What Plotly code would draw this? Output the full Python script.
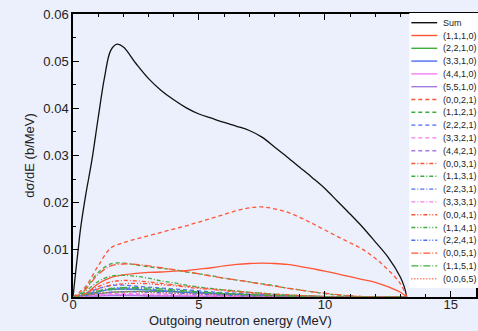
import plotly.graph_objects as go

# Outgoing neutron energy grid (MeV)
E_SUM = [0, 0.1, 0.2, 0.3, 0.5, 0.75, 1.0, 1.25, 1.5, 1.75, 2.0, 2.5, 3, 3.5, 4, 4.5, 5, 5.5,
         6, 6.5, 7, 7.5, 8, 8.5, 9, 9.5, 10, 10.5, 11, 11.5, 12, 12.5, 13, 13.15, 13.25]
SUM = [0, .0050, .0098, .0145, .0215, .0290, .0380, .0465, .0523, .0536, .0530, .0495, .0463,
       .0438, .0418, .0401, .0388, .0379, .0370, .0362, .0353, .0339, .0318, .0297, .0275,
       .0253, .0230, .0203, .0176, .0148, .0117, .0085, .0042, .0022, 0]

E = [0, 0.25, 0.5, 1, 1.5, 2, 2.5, 3, 3.5, 4, 4.5, 5, 5.5, 6, 6.5, 7, 7.5, 8, 8.5, 9, 9.5,
     10, 10.5, 11, 11.5, 12, 12.5, 13, 13.25]

# Partial contributions, labelled by their quantum numbers
P_1110 = [0, .0002, .0007, .0028, .0041, .0047, .0050, .0052, .0053, .0055, .0056, .0059, .0062, .0066, .0069,
          .0071, .0072, .0071, .0069, .0065, .0060, .0055, .0049, .0043, .0037, .0031, .0022, .0010, 0]
P_2210 = [0, .0001, .0003, .0007, .0010, .0011, .0012, .0012, .0012, .0011, .0010, .0009, .0008, .0007, .0006,
          .0005, .0004, .0003, .0003, .0002, .0002, .0001, .0001, .0001, 0, 0, 0, 0, 0]
P_3310 = [0, .0001, .0004, .0011, .0016, .0017, .0016, .0015, .0013, .0012, .0010, .0009, .0007, .0006, .0005,
          .0004, .0003, .0002, .0002, .0001, .0001, 0, 0, 0, 0, 0, 0, 0, 0]
P_4410 = [0, 0, .0001, .0003, .0004, .0004, .0004, .0003, .0003, .0003, .0002, .0002, .0002, .0001, .0001,
          .0001, 0, 0, 0, 0, 0, 0, 0, 0, 0, 0, 0, 0, 0]
P_5510 = [0, 0, .0001, .0002, .0003, .0003, .0003, .0002, .0002, .0002, .0001, .0001, .0001, .0001, 0,
          0, 0, 0, 0, 0, 0, 0, 0, 0, 0, 0, 0, 0, 0]
P_0021 = [0, .0010, .0022, .0066, .0104, .0115, .0123, .0130, .0137, .0144, .0151, .0159, .0167, .0175, .0183,
          .0189, .0191, .0187, .0180, .0169, .0156, .0142, .0128, .0115, .0101, .0082, .0058, .0028, 0]
P_1121 = [0, .0006, .0018, .0052, .0070, .0072, .0068, .0064, .0061, .0058, .0053, .0049, .0045, .0040, .0036,
          .0032, .0028, .0024, .0019, .0015, .0011, .0007, .0004, .0002, 0, 0, 0, 0, 0]
P_2221 = [0, .0002, .0007, .0018, .0024, .0025, .0023, .0021, .0019, .0017, .0015, .0013, .0011, .0009, .0008,
          .0006, .0005, .0004, .0003, .0002, .0001, .0001, 0, 0, 0, 0, 0, 0, 0]
P_3321 = [0, .0001, .0002, .0005, .0007, .0007, .0007, .0006, .0006, .0005, .0004, .0004, .0003, .0003, .0002,
          .0002, .0001, .0001, 0, 0, 0, 0, 0, 0, 0, 0, 0, 0, 0]
P_4421 = [0, 0, .0001, .0003, .0004, .0004, .0004, .0003, .0003, .0002, .0002, .0002, .0001, .0001, .0001,
          0, 0, 0, 0, 0, 0, 0, 0, 0, 0, 0, 0, 0, 0]
P_0031 = [0, .0003, .0008, .0022, .0032, .0035, .0034, .0032, .0029, .0026, .0023, .0020, .0017, .0015, .0012,
          .0010, .0008, .0006, .0005, .0003, .0002, .0001, 0, 0, 0, 0, 0, 0, 0]
P_1131 = [0, .0004, .0012, .0033, .0044, .0046, .0044, .0040, .0034, .0030, .0025, .0021, .0018, .0015, .0013,
          .0010, .0008, .0006, .0004, .0003, .0002, .0001, 0, 0, 0, 0, 0, 0, 0]
P_2231 = [0, .0001, .0005, .0013, .0018, .0019, .0018, .0016, .0014, .0012, .0010, .0009, .0007, .0006, .0005,
          .0004, .0003, .0002, .0001, .0001, 0, 0, 0, 0, 0, 0, 0, 0, 0]
P_3331 = [0, 0, .0002, .0004, .0005, .0005, .0005, .0004, .0004, .0003, .0003, .0002, .0002, .0001, .0001,
          0, 0, 0, 0, 0, 0, 0, 0, 0, 0, 0, 0, 0, 0]
P_0041 = [0, .0002, .0006, .0017, .0025, .0028, .0029, .0028, .0026, .0024, .0021, .0018, .0016, .0013, .0011,
          .0009, .0007, .0005, .0004, .0003, .0002, .0001, 0, 0, 0, 0, 0, 0, 0]
P_1141 = [0, .0001, .0004, .0011, .0015, .0017, .0017, .0016, .0014, .0013, .0011, .0010, .0008, .0007, .0006,
          .0005, .0004, .0003, .0002, .0001, .0001, 0, 0, 0, 0, 0, 0, 0, 0]
P_2241 = [0, .0001, .0003, .0007, .0010, .0011, .0011, .0010, .0009, .0008, .0007, .0006, .0005, .0004, .0003,
          .0002, .0002, .0001, .0001, 0, 0, 0, 0, 0, 0, 0, 0, 0, 0]
P_0051 = [0, .0005, .0016, .0048, .0066, .0070, .0069, .0066, .0062, .0058, .0054, .0049, .0044, .0040, .0036,
          .0032, .0027, .0023, .0019, .0015, .0011, .0008, .0005, .0003, .0001, 0, 0, 0, 0]
P_1151 = [0, .0002, .0005, .0013, .0018, .0020, .0020, .0019, .0017, .0015, .0013, .0011, .0009, .0008, .0006,
          .0005, .0004, .0003, .0002, .0001, 0, 0, 0, 0, 0, 0, 0, 0, 0]
P_0065 = [0, .0001, .0003, .0008, .0010, .0011, .0011, .0010, .0009, .0008, .0007, .0006, .0005, .0004, .0003,
          .0002, .0002, .0001, 0, 0, 0, 0, 0, 0, 0, 0, 0, 0, 0]

RED, GREEN, BLUE, PINK, PURPLE = "#ff5535", "#3fae3f", "#4f6cf5", "#f77cf0", "#a47ce0"
SOLID, DASH = "solid", "4px,3px"
DASHDOT = "4px,2px,1px,2px"
DASHDOTDOT = "4px,2px,1px,2px,1px,2px"
LONGDASHDOT = "7px,2px,1px,2px"
DOT = "1px,2px"

series = [
    ("Sum", E_SUM, SUM, "#111111", SOLID),
    ("(1,1,1,0)", E, P_1110, RED, SOLID),
    ("(2,2,1,0)", E, P_2210, GREEN, SOLID),
    ("(3,3,1,0)", E, P_3310, BLUE, SOLID),
    ("(4,4,1,0)", E, P_4410, PINK, SOLID),
    ("(5,5,1,0)", E, P_5510, PURPLE, SOLID),
    ("(0,0,2,1)", E, P_0021, RED, DASH),
    ("(1,1,2,1)", E, P_1121, GREEN, DASH),
    ("(2,2,2,1)", E, P_2221, BLUE, DASH),
    ("(3,3,2,1)", E, P_3321, PINK, DASH),
    ("(4,4,2,1)", E, P_4421, PURPLE, DASH),
    ("(0,0,3,1)", E, P_0031, RED, DASHDOT),
    ("(1,1,3,1)", E, P_1131, GREEN, DASHDOT),
    ("(2,2,3,1)", E, P_2231, BLUE, DASHDOT),
    ("(3,3,3,1)", E, P_3331, PINK, DASHDOT),
    ("(0,0,4,1)", E, P_0041, RED, DASHDOTDOT),
    ("(1,1,4,1)", E, P_1141, GREEN, DASHDOTDOT),
    ("(2,2,4,1)", E, P_2241, BLUE, DASHDOTDOT),
    ("(0,0,5,1)", E, P_0051, RED, LONGDASHDOT),
    ("(1,1,5,1)", E, P_1151, GREEN, LONGDASHDOT),
    ("(0,0,6,5)", E, P_0065, RED, DOT),
]

W, H = 478, 331
ML, MT, MB, MR = 73, 14, 34, 0
PW, PH = W - ML - MR, H - MT - MB
BG = "#eceffc"
FONT = "Liberation Sans, Arial, Helvetica, sans-serif"
TXT = "#222222"

fig = go.Figure()
for name, x, y, color, dash in series:
    fig.add_trace(go.Scatter(
        x=x, y=y, mode="lines", name=name, showlegend=False,
        line=dict(color=color, dash=dash, width=1.3, shape="spline", smoothing=1.0),
    ))


def px_x(px):
    return (px - ML) / PW


def px_y(py):
    return 1 - (py - MT) / PH


# Compact legend panel built from shapes and annotations
shapes = [dict(type="rect", xref="paper", yref="paper", layer="above",
               x0=px_x(411), x1=px_x(W + 2), y0=px_y(288), y1=px_y(MT - 1),
               fillcolor="white", line=dict(width=0))]
annotations = []
for i, (name, _, _, color, dash) in enumerate(series):
    yc = px_y(22.7 + i * 12.8)
    shapes.append(dict(type="line", xref="paper", yref="paper", layer="above",
                       x0=px_x(413), x1=px_x(439), y0=yc, y1=yc,
                       line=dict(color=color, dash=dash, width=1.4)))
    annotations.append(dict(xref="paper", yref="paper", x=px_x(443), y=yc,
                            xanchor="left", yanchor="middle", text=name, showarrow=False,
                            font=dict(size=9, color=TXT, family=FONT)))

# x-axis title
annotations.append(dict(xref="paper", yref="paper", x=px_x(241), y=px_y(320.5),
                        xanchor="center", yanchor="middle", showarrow=False,
                        text="Outgoing neutron energy (MeV)",
                        font=dict(size=13, color=TXT, family=FONT)))

axis_common = dict(
    showline=True, linecolor="black", linewidth=1.5, mirror="ticks",
    ticks="inside", ticklen=6, tickwidth=1.2, tickcolor="black",
    showgrid=False, zeroline=False,
    tickfont=dict(size=13, color=TXT, family=FONT),
)

fig.update_layout(
    width=W, height=H,
    margin=dict(l=ML, r=MR, t=MT, b=MB, pad=0),
    paper_bgcolor=BG, plot_bgcolor=BG,
    font=dict(family=FONT, color=TXT),
    shapes=shapes, annotations=annotations,
    xaxis=dict(range=[0, 16], tickvals=[0, 5, 10, 15], ticklabelstandoff=-5,
               minor=dict(ticks="inside", dtick=1, ticklen=3, tickcolor="black"),
               **axis_common),
    yaxis=dict(range=[0, 0.06], tickvals=[0, 0.01, 0.02, 0.03, 0.04, 0.05, 0.06],
               ticktext=["0", "0.01", "0.02", "0.03", "0.04", "0.05", "0.06"],
               minor=dict(ticks="inside", dtick=0.005, ticklen=3, tickcolor="black"),
               title=dict(text="dσ/dE (b/MeV)", standoff=6,
                          font=dict(size=13, family=FONT, color=TXT)),
               **axis_common),
)

fig.write_html("out.html")
